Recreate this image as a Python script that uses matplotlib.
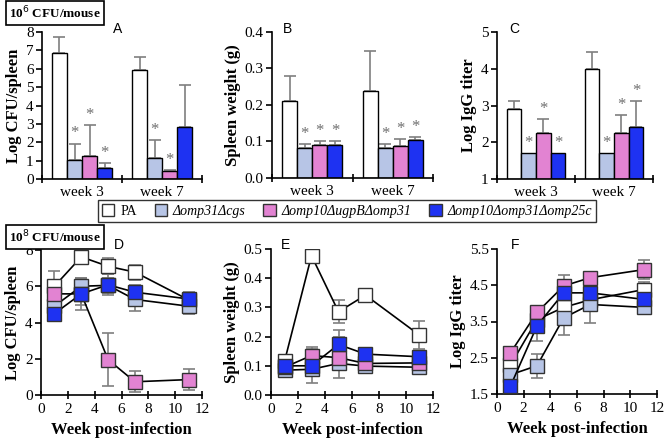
import numpy as np
import matplotlib
matplotlib.use("Agg")
import matplotlib.pyplot as plt
from matplotlib.patches import Patch

plt.rcParams['font.family'] = ['Liberation Serif', 'DejaVu Serif']

# groups and styling
strains = ["PA", "Δomp31Δcgs", "Δomp10ΔugpBΔomp31", "Δomp10Δomp31Δomp25c"]
colors = ["#ffffff", "#b7c5e6", "#e283d2", "#1e32f2"]
weeks = ["week 3", "week 7"]

# top row: bar charts (10^6 CFU/mouse), rows = strains, cols = week 3, week 7
cfu_bar = [[6.85, 5.95], [1.05, 1.15], [1.25, 0.45], [0.6, 2.82]]
cfu_bar_err = [[0.9, 0.7], [0.88, 0.98], [1.7, 0.05], [0.28, 2.3]]
cfu_bar_star = [[False, False], [True, True], [True, True], [True, False]]

spl_bar = [[0.21, 0.238], [0.082, 0.083], [0.09, 0.087], [0.09, 0.103]]
spl_bar_err = [[0.07, 0.11], [0.01, 0.01], [0.01, 0.02], [0.01, 0.01]]
spl_bar_star = [[False, False], [True, True], [True, True], [True, True]]

igg_bar = [[2.9, 4.0], [1.7, 1.7], [2.25, 2.25], [1.7, 2.42]]
igg_bar_err = [[0.22, 0.45], [0.0, 0.0], [0.38, 0.48], [0.0, 0.7]]
igg_bar_star = [[False, False], [True, True], [True, True], [True, True]]

# bottom row: time courses (10^8 CFU/mouse)
week_pi = [1, 3, 5, 7, 11]
cfu_line = [[6.0, 7.62, 7.1, 6.78, 5.25],
            [4.9, 6.0, 6.05, 5.27, 4.9],
            [5.58, 5.58, 1.95, 0.73, 0.85],
            [4.49, 5.58, 6.08, 5.67, 5.3]]
cfu_line_err = [[0.85, 0.12, 0.45, 0.42, 0.3],
                [0.4, 0.45, 0.4, 0.62, 0.45],
                [0.3, 0.6, 1.45, 0.58, 0.6],
                [0.4, 0.87, 0.58, 0.4, 0.4]]

spl_line = [[0.115, 0.477, 0.285, 0.342, 0.205],
            [0.085, 0.088, 0.108, 0.099, 0.095],
            [0.095, 0.135, 0.128, 0.108, 0.11],
            [0.1, 0.1, 0.173, 0.14, 0.131]]
spl_line_err = [[0.02, 0.01, 0.04, 0.01, 0.047],
                [0.01, 0.015, 0.02, 0.012, 0.012],
                [0.015, 0.03, 0.07, 0.015, 0.015],
                [0.031, 0.058, 0.049, 0.02, 0.02]]

igg_line = [[2.29, 3.55, 3.89, 4.1, 4.38],
            [2.03, 2.28, 3.6, 3.97, 3.89],
            [2.63, 3.75, 4.48, 4.71, 4.93],
            [1.71, 3.38, 4.29, 4.29, 4.11]]
igg_line_err = [[0.1, 0.1, 0.2, 0.15, 0.2],
                [0.1, 0.33, 0.46, 0.52, 0.1],
                [0.1, 0.1, 0.3, 0.1, 0.27],
                [0.1, 0.43, 0.15, 0.15, 0.1]]

ERR_COLOR = "#7f7f7f"
W, H = 666, 441


def rect(x0, y0, x1, y1):
    return [x0 / W, 1 - y1 / H, (x1 - x0) / W, (y1 - y0) / H]


def style_axis(ax):
    ax.spines['top'].set_visible(False)
    ax.spines['right'].set_visible(False)
    ax.spines['left'].set_linewidth(1.2)
    ax.spines['bottom'].set_linewidth(1.2)
    ax.tick_params(axis='y', direction='out', length=4, width=1.2, labelsize=11, pad=2)
    ax.tick_params(axis='x', direction='inout', length=6, width=1.2, labelsize=11, pad=3)


def bar_panel(ax, vals, errs, stars, ylim, yticks, ylabel, fmt):
    width = 0.1875
    offsets = [-1.5, -0.5, 0.5, 1.5]
    x = np.arange(len(weeks)) + 0.5
    top_span = ylim[1] - ylim[0]
    for i in range(len(strains)):
        pos = x + offsets[i] * width
        ax.bar(pos, np.array(vals[i]) - ylim[0], width, bottom=ylim[0],
               color=colors[i], edgecolor="black", linewidth=1.0, zorder=2)
        for j in range(len(weeks)):
            e = errs[i][j]
            if e > 0:
                ax.errorbar(pos[j], vals[i][j], yerr=[[0], [e]], fmt='none',
                            ecolor=ERR_COLOR, elinewidth=1.2, capsize=4, capthick=1.2, zorder=1)
            if stars[i][j]:
                ax.text(pos[j], vals[i][j] + e + 0.015 * top_span, "*", ha='center', va='bottom',
                        fontsize=12, color="#6f6f6f")
    ax.set_xlim(0, 2)
    ax.set_ylim(*ylim)
    ax.set_yticks(yticks)
    ax.set_yticklabels([fmt.format(t) for t in yticks])
    ax.set_xticks([0, 1, 2])
    ax.set_xticklabels([])
    ax.set_xticks(x, minor=True)
    ax.set_xticklabels(weeks, minor=True)
    ax.tick_params(axis='x', which='minor', length=0, labelsize=11, pad=5)
    ax.set_ylabel(ylabel, fontsize=12, fontweight='bold', labelpad=3)


def line_panel(ax, vals, errs, ylim, yticks, ylabel, fmt):
    for i in range(len(strains)):
        ax.errorbar(week_pi, vals[i], yerr=errs[i], fmt='none', ecolor=ERR_COLOR,
                    elinewidth=1.2, capsize=4, capthick=1.2, zorder=1)
    for i in range(len(strains)):
        ax.plot(week_pi, vals[i], '-', color='black', linewidth=1.2, marker='s', markersize=9.5,
                markerfacecolor=colors[i], markeredgecolor='#333333', markeredgewidth=1.0, zorder=3 + i)
    ax.set_xlim(0, 12)
    ax.set_xticks(range(0, 13, 2))
    ax.set_ylim(*ylim)
    ax.set_yticks(yticks)
    ax.set_yticklabels([fmt.format(t) for t in yticks])
    ax.set_ylabel(ylabel, fontsize=12, fontweight='bold', labelpad=3)
    ax.set_xlabel("Week post-infection", fontsize=12, fontweight='bold', labelpad=4)


fig = plt.figure(figsize=(6.66, 4.41), dpi=100)

axA = fig.add_axes(rect(42, 32, 202, 179))
axB = fig.add_axes(rect(272, 32, 433, 178))
axC = fig.add_axes(rect(497, 32, 653, 179))
axD = fig.add_axes(rect(41, 250, 202, 395))
axE = fig.add_axes(rect(271, 249, 433, 395))
axF = fig.add_axes(rect(497, 249, 657, 394))
for ax in [axA, axB, axC, axD, axE, axF]:
    style_axis(ax)

bar_panel(axA, cfu_bar, cfu_bar_err, cfu_bar_star, (0, 8), list(range(0, 9)),
          "Log CFU/spleen", "{:.0f}")
bar_panel(axB, spl_bar, spl_bar_err, spl_bar_star, (0, 0.4), [0, 0.1, 0.2, 0.3, 0.4],
          "Spleen weight (g)", "{:.1f}")
bar_panel(axC, igg_bar, igg_bar_err, igg_bar_star, (1, 5), [1, 2, 3, 4, 5],
          "Log IgG titer", "{:.0f}")

line_panel(axD, cfu_line, cfu_line_err, (0, 8), [0, 2, 4, 6, 8], "Log CFU/spleen", "{:.0f}")
line_panel(axE, spl_line, spl_line_err, (0, 0.5), [0, 0.1, 0.2, 0.3, 0.4, 0.5],
           "Spleen weight (g)", "{:.1f}")
line_panel(axF, igg_line, igg_line_err, (1.5, 5.5), [1.5, 2.5, 3.5, 4.5, 5.5],
           "Log IgG titer", "{:.1f}")

# panel letters
for letter, px, py in [("A", 118, 29), ("B", 287, 29), ("C", 514, 29),
                       ("D", 119, 245), ("E", 285, 245), ("F", 515, 245)]:
    fig.text(px / W, 1 - py / H, letter, ha='center', va='center', fontsize=10,
             family='Liberation Sans')

# dose boxes
box = dict(boxstyle='square,pad=0.25', facecolor='white', edgecolor='black', linewidth=1.2)
fig.text(9 / W, 1 - 13 / H, r"10$^{6}$ CFU/mouse", fontsize=9.5, fontweight='bold',
         ha='left', va='center', bbox=box)
fig.text(9 / W, 1 - 237 / H, r"10$^{8}$ CFU/mouse", fontsize=9.5, fontweight='bold',
         ha='left', va='center', bbox=box)

# legend
handles = [Patch(facecolor=c, edgecolor='#333333', linewidth=1.0) for c in colors]
leg = fig.legend(handles, strains, loc='center', bbox_to_anchor=(347 / W, 1 - 211 / H),
                 ncol=4, frameon=True, fancybox=False, edgecolor='black', fontsize=10,
                 handlelength=0.9, handleheight=0.9, handletextpad=0.4, columnspacing=1.3,
                 borderpad=0.3)
leg.get_frame().set_linewidth(1.0)
for t in leg.get_texts()[1:]:
    t.set_fontstyle('italic')

fig.savefig("out.png", dpi=100)
